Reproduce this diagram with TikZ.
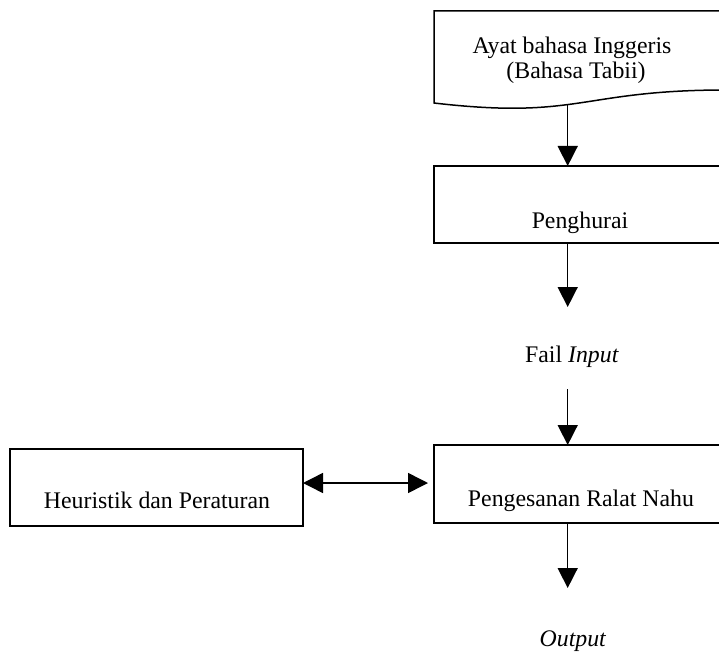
\documentclass[tikz,border=0pt]{standalone}
\usepackage{fontspec}
\setmainfont{Liberation Serif}
\usetikzlibrary{arrows.meta}
\begin{document}
\begin{tikzpicture}[x=1bp,y=-1bp,
  box/.style={draw,line width=1.5bp,minimum width=292bp,minimum height=77bp,inner sep=0pt,outer sep=0pt,anchor=north west},
  lbl/.style={font=\fontsize{23.8bp}{27bp}\selectfont,inner sep=0pt,anchor=base},
  tri/.tip={Triangle[length=20bp,width=20bp]},
  conn/.style={line width=1.5bp,-tri},
  dconn/.style={line width=1.5bp,tri-tri},
]
\useasboundingbox (0,0) rectangle (719,656);
\clip (0,0) rectangle (719,656);
% document symbol
\draw[line width=1.5bp] (434,11) -- (726,11) -- (726,90) .. controls (580,90) and (580,120) .. (434,103) -- cycle;
\node[lbl] (tdoc1) at (572,54) {Ayat bahasa Inggeris};
\node[lbl] (tdoc2) at (576,79) {(Bahasa Tabii)};
\coordinate (docb) at (567.7,105);
% boxes
\node[box] (parse) at (434,166) {};
\node[lbl] (tparse) at (580,228) {Penghurai};
\node[box,minimum height=78bp] (detect) at (434,445) {};
\node[lbl] (tdetect) at (581,506) {Pengesanan Ralat Nahu};
\node[box,minimum width=293bp] (rules) at (10,449) {};
\node[lbl] (trules) at (157,508) {Heuristik dan Peraturan};
% free texts
\node[lbl] (fail) at (572,362) {Fail \textit{Input}};
\node[lbl] (out) at (573,646) {\textit{Output}};
% connectors
\coordinate (a2) at (567.7,307);
\coordinate (a3) at (567.7,389);
\coordinate (a4) at (567.7,588);
\coordinate (a5) at (428,483);
\draw[conn] (docb) -- (parse.north -| docb);
\draw[conn] (parse.south -| docb) -- (a2);
\draw[conn] (a3) -- (detect.north -| docb);
\draw[conn] (detect.south -| docb) -- (a4);
\draw[dconn] (rules.east |- a5) -- (a5);
\end{tikzpicture}
\end{document}
